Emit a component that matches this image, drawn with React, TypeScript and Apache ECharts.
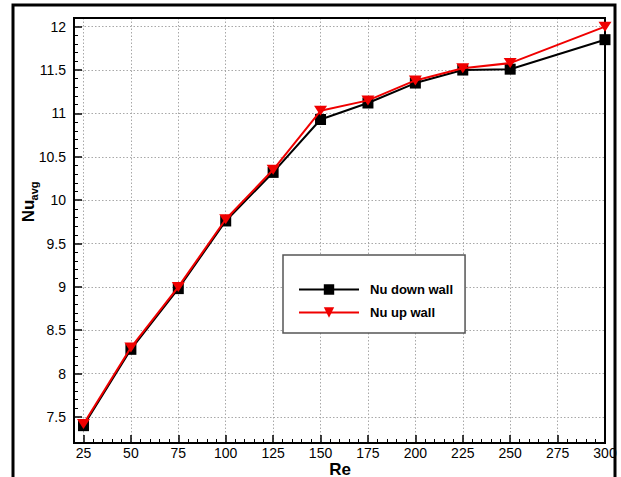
import React, { useEffect, useRef } from "react";
import * as echarts from "echarts";

const reValues = [25, 50, 75, 100, 125, 150, 175, 200, 225, 250, 300];
const nuDownWall = [7.4, 8.28, 8.98, 9.76, 10.32, 10.93, 11.12, 11.35, 11.5, 11.51, 11.85];
const nuUpWall = [7.42, 8.3, 9.0, 9.78, 10.35, 11.03, 11.15, 11.38, 11.52, 11.58, 12.0];
const seriesNames = ["Nu down wall", "Nu up wall"];

const FONT = "'Liberation Sans', Arial, sans-serif";

export default function App() {
  const ref = useRef<HTMLDivElement>(null);
  useEffect(() => {
    if (!ref.current) return;
    const chart = echarts.init(ref.current, undefined, { renderer: "svg" });
    const W = 621;
    const H = 477;
    const plotL = 74, plotR = 605, plotT = 18, plotB = 443;
    const xMin = 20, xMax = 300, yMin = 7.2, yMax = 12.1;
    const xPix = (v: number) => plotL + ((v - xMin) / (xMax - xMin)) * (plotR - plotL);
    const yPix = (v: number) => plotB - ((v - yMin) / (yMax - yMin)) * (plotB - plotT);
    const gridDotted = { show: true, lineStyle: { color: "#a8a8a8", type: [1.5, 2], width: 1 } };

    const option: any = {
      animation: false,
      backgroundColor: "#ffffff",
      textStyle: { fontFamily: FONT },
      grid: [
        { left: plotL, right: W - plotR, top: plotT, bottom: H - plotB, show: true, borderColor: "#000", borderWidth: 2, backgroundColor: "transparent", z: 5 },
        { left: xPix(25), right: W - plotR, top: plotT, bottom: H - plotB, show: false },
        { left: plotL, right: W - plotR, top: yPix(12), bottom: H - yPix(7.5), show: false },
      ],
      xAxis: [
        { gridIndex: 0, type: "value", min: xMin, max: xMax, show: false },
        {
          gridIndex: 1, type: "value", min: 25, max: 300, interval: 25,
          axisLine: { show: false },
          axisTick: { show: true, inside: true, length: 8, lineStyle: { color: "#000", width: 1.5 } },
          minorTick: { show: true, splitNumber: 5, length: 4, lineStyle: { color: "#000", width: 1 } },
          splitLine: { ...gridDotted, showMaxLine: false },
          axisLabel: { color: "#000", fontSize: 14, fontFamily: FONT, margin: 3, showMaxLabel: true, showMinLabel: true },
        },
        { gridIndex: 2, type: "value", min: 0, max: 1, show: false },
      ],
      yAxis: [
        { gridIndex: 0, type: "value", min: yMin, max: yMax, show: false },
        { gridIndex: 1, type: "value", min: 0, max: 1, show: false },
        {
          gridIndex: 2, type: "value", min: 7.5, max: 12, interval: 0.5,
          axisLine: { show: false },
          axisTick: { show: true, inside: true, length: 8, lineStyle: { color: "#000", width: 1.5 } },
          minorTick: { show: true, splitNumber: 5, length: 4, lineStyle: { color: "#000", width: 1 } },
          splitLine: gridDotted,
          axisLabel: { color: "#000", fontSize: 14, fontFamily: FONT, margin: 8 },
        },
      ],
      legend: {
        orient: "vertical",
        left: 283,
        top: 255,
        backgroundColor: "#fff",
        borderColor: "#555",
        borderWidth: 1.5,
        borderRadius: 0,
        padding: [28, 12, 14, 15],
        itemWidth: 60,
        itemHeight: 13,
        itemGap: 10,
        textStyle: { color: "#000", fontSize: 13, fontWeight: "bold", fontFamily: FONT, padding: [0, 0, 0, 6] },
        data: seriesNames,
        z: 10,
      },
      graphic: [
        {
          type: "rect", z: 100, silent: true,
          shape: { x: 13, y: 5, width: 602, height: 492 },
          style: { fill: "none", stroke: "#000", lineWidth: 3 },
        },
        {
          type: "text", x: 28, y: 211, rotation: Math.PI / 2, z: 100,
          style: { text: "Nu", font: `bold 17px ${FONT}`, fill: "#000", align: "center", verticalAlign: "middle", textAlign: "center", textVerticalAlign: "middle" },
        },
        {
          type: "text", x: 34, y: 191, rotation: Math.PI / 2, z: 100,
          style: { text: "avg", font: `bold 11px ${FONT}`, fill: "#000", align: "center", verticalAlign: "middle", textAlign: "center", textVerticalAlign: "middle" },
        },
        {
          type: "text", x: 340, y: 469, z: 100,
          style: { text: "Re", font: `bold 17px ${FONT}`, fill: "#000", align: "center", verticalAlign: "middle", textAlign: "center", textVerticalAlign: "middle" },
        },
      ],
      series: [
        {
          name: seriesNames[0], type: "line", xAxisIndex: 0, yAxisIndex: 0,
          data: reValues.map((r, i) => [r, nuDownWall[i]]),
          symbol: "rect", symbolSize: 11,
          lineStyle: { color: "#000", width: 2 },
          itemStyle: { color: "#000" },
          z: 6,
        },
        {
          name: seriesNames[1], type: "line", xAxisIndex: 0, yAxisIndex: 0,
          data: reValues.map((r, i) => [r, nuUpWall[i]]),
          symbol: "triangle", symbolSize: [13, 10], symbolRotate: 180,
          lineStyle: { color: "#f00000", width: 2 },
          itemStyle: { color: "#f00000" },
          z: 7,
        },
      ],
    };
    chart.setOption(option);
    return () => chart.dispose();
  }, []);
  return (
    <div style={{ position: "fixed", left: 0, top: 0, width: 621, height: 477, background: "#fff" }}>
      <div ref={ref} style={{ width: 621, height: 477 }} />
    </div>
  );
}
